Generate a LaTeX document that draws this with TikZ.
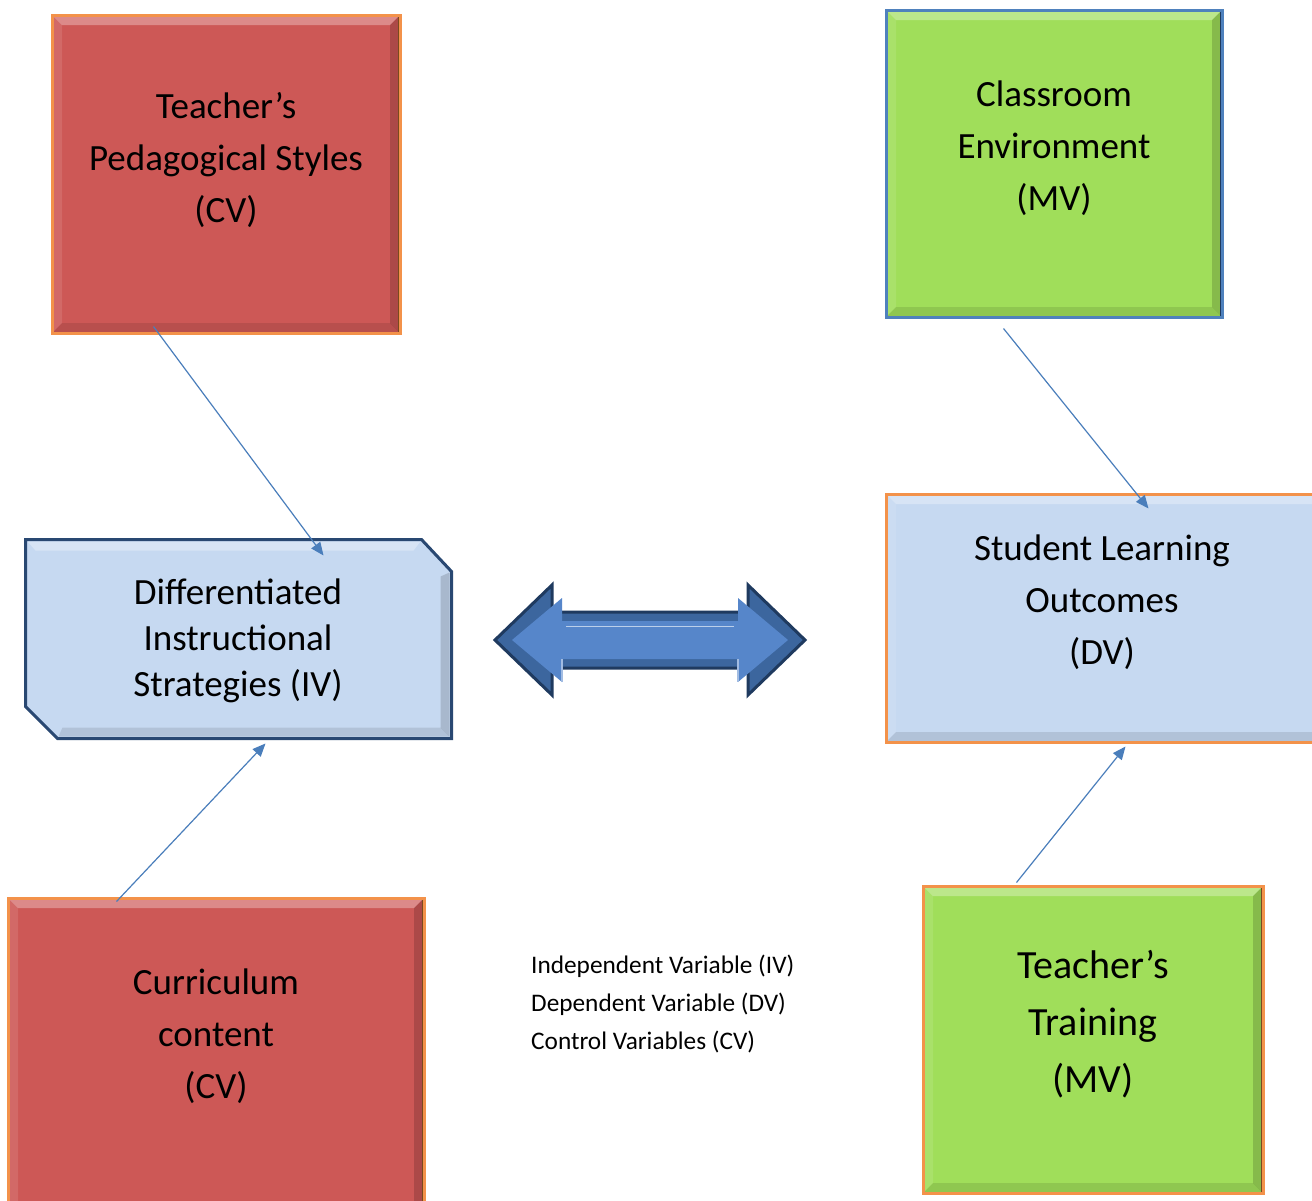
\documentclass[tikz,border=0pt]{standalone}
\usepackage{fontspec}
\setmainfont{Carlito}
\usetikzlibrary{arrows.meta,calc}
\definecolor{redfill}{HTML}{CD5856}
\definecolor{greenfill}{HTML}{A0DE5A}
\definecolor{bluefill}{HTML}{C6D9F1}
\definecolor{orangeline}{HTML}{F3924A}
\definecolor{brownline}{HTML}{7A4A1E}
\definecolor{blueline}{HTML}{4F81BD}
\definecolor{navyline}{HTML}{1F3A5F}
\definecolor{conncol}{HTML}{4A7EBB}
\definecolor{arrfill}{HTML}{5686CA}
\definecolor{arrdark}{HTML}{3C669E}
\begin{document}
\begin{tikzpicture}[x=1pt,y=-1pt,
  bevel/.style={path picture={
    \coordinate (nw) at (path picture bounding box.north west);
    \coordinate (ne) at (path picture bounding box.north east);
    \coordinate (sw) at (path picture bounding box.south west);
    \coordinate (se) at (path picture bounding box.south east);
    \fill[white,opacity=.30] (nw) -- (ne) -- ([shift={(-10pt,-10pt)}]ne) -- ([shift={(10pt,-10pt)}]nw) -- cycle;
    \fill[white,opacity=.10] (nw) -- ([shift={(10pt,-10pt)}]nw) -- ([shift={(10pt,10pt)}]sw) -- (sw) -- cycle;
    \fill[black,opacity=.16] (ne) -- (se) -- ([shift={(-10pt,10pt)}]se) -- ([shift={(-10pt,-10pt)}]ne) -- cycle;
    \fill[black,opacity=.10] (sw) -- (se) -- ([shift={(-10pt,10pt)}]se) -- ([shift={(10pt,10pt)}]sw) -- cycle;
    \draw[#1, line width=4pt] (ne) -- (se);
  }},
  vbox/.style={rectangle, inner sep=0pt, line width=3pt},
  lbl/.style={align=center, text=black, inner sep=0pt},
  big/.style={font=\fontsize{37}{52}\selectfont},
  conn/.style={draw=conncol, line width=1.2pt, -{Triangle[length=13pt,width=11pt]}}
]
\useasboundingbox (0,0) rectangle (1312,1200);
\fill[white] (0,0) rectangle (1312,1200);

% boxes
\node[vbox, fill=redfill, draw=orangeline, bevel=brownline, minimum width=348, minimum height=318] (A) at (226,174) {};
\node[vbox, fill=greenfill, draw=blueline, bevel=navyline, minimum width=336, minimum height=307] (B) at (1054,163.5) {};
\node[vbox, draw=none, minimum width=423, minimum height=196] (C) at (238.5,639) {};
\filldraw[fill=bluefill, draw=navyline!80!blueline, line width=3pt, line join=miter]
  (C.north west) -- ([xshift=-30pt]C.north east) -- ([yshift=-32pt]C.north east)
  -- (C.south east) -- ([xshift=32pt]C.south west) -- ([yshift=32pt]C.south west) -- cycle;
\fill[white,opacity=.30] ([shift={(2pt,-2pt)}]C.north west) -- ([shift={(-31pt,-2pt)}]C.north east) -- ([shift={(-38pt,-11pt)}]C.north east) -- ([shift={(10pt,-11pt)}]C.north west) -- cycle;
\fill[black,opacity=.15] ([shift={(-2pt,-33pt)}]C.north east) -- ([shift={(-2pt,2pt)}]C.south east) -- ([shift={(-11pt,11pt)}]C.south east) -- ([shift={(-11pt,-37pt)}]C.north east) -- cycle;
\fill[black,opacity=.10] ([shift={(33pt,2pt)}]C.south west) -- ([shift={(-2pt,2pt)}]C.south east) -- ([shift={(-11pt,11pt)}]C.south east) -- ([shift={(37pt,11pt)}]C.south west) -- cycle;
\node[vbox, fill=bluefill, draw=orangeline, bevel=orangeline!70!brownline, minimum width=440, minimum height=248] (D) at (1106,618) {};
\node[vbox, fill=redfill, draw=orangeline, bevel=brownline, minimum width=416, minimum height=330] (E) at (216,1063) {};
\node[vbox, fill=greenfill, draw=orangeline, bevel=brownline, minimum width=340, minimum height=307] (F) at (1093,1039.5) {};

% texts
\node[lbl, big] (At) at (226,160) {Teacher’s\\Pedagogical Styles\\(CV)};
\node[lbl, big] (Bt) at (1054,148) {Classroom\\Environment\\(MV)};
\node[lbl, font=\fontsize{37}{46}\selectfont] (Ct) at (238,641) {Differentiated\\Instructional\\Strategies (IV)};
\node[lbl, big] (Dt) at (1102,602) {Student Learning\\Outcomes\\(DV)};
\node[lbl, big] (Et) at (216,1036) {Curriculum\\content\\(CV)};
\node[lbl, font=\fontsize{40}{57}\selectfont] (Ft) at (1093,1024) {Teacher’s\\Training\\(MV)};

% legend
\node[anchor=west, align=left, inner sep=0pt, font=\fontsize{25.3}{38}\selectfont] (leg) at (531,1004) {Independent Variable (IV)\\Dependent Variable (DV)\\Control Variables (CV)};

% double arrow
\filldraw[fill=arrdark, draw=navyline, line width=3pt, line join=miter]
  (495,640) -- (552,585) -- (552,612) -- (748,612) -- (748,585) -- (805,640)
  -- (748,695) -- (748,668) -- (552,668) -- (552,695) -- cycle;
\fill[arrfill]
  (512,640) -- (562,598) -- (562,621) -- (738,621) -- (738,598) -- (788,640)
  -- (738,682) -- (738,659) -- (562,659) -- (562,682) -- cycle;
\draw[arrfill!55!white, line width=1.5pt] (562,659) -- (562,682) (738,659) -- (738,682);
\draw[arrfill!40!white, line width=1pt] (566,626) -- (734,626);

% connectors
\draw[conn] ([xshift=103pt,yshift=8pt]A.south west) -- ([xshift=298pt,yshift=-16pt]C.north west);
\draw[conn] ([xshift=119pt,yshift=-10pt]B.south west) -- ([xshift=264pt,yshift=-16pt]D.north west);
\draw[conn] ([xshift=110pt,yshift=-5pt]E.north west) -- ([xshift=240pt,yshift=-5pt]C.south west);
\draw[conn] ([xshift=95pt,yshift=2pt]F.north west) -- ([xshift=241pt,yshift=-3pt]D.south west);
\end{tikzpicture}
\end{document}
